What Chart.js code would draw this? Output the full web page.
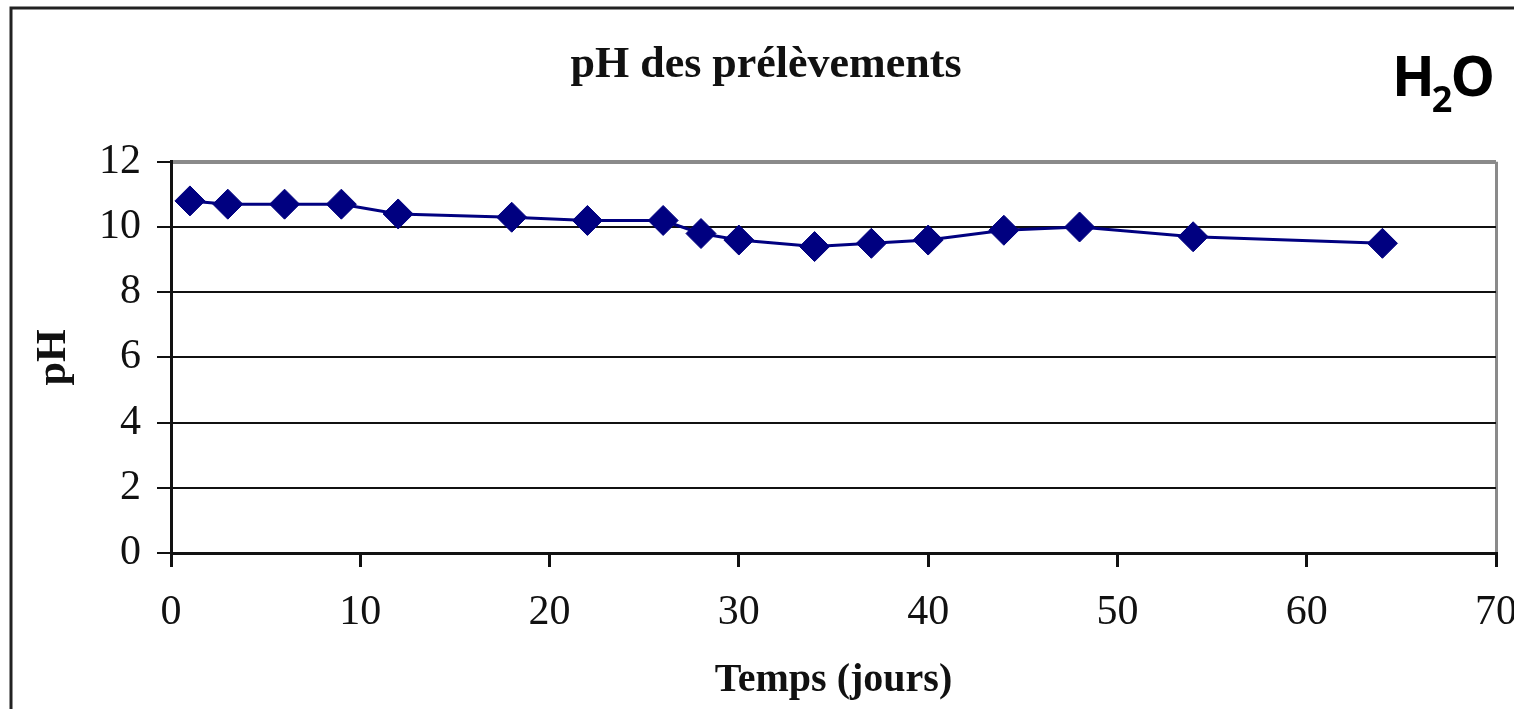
<!DOCTYPE html>
<html>
<head>
<meta charset="utf-8">
<script src="https://cdn.jsdelivr.net/npm/chart.js@4/dist/chart.umd.min.js"></script>
<style>
  body { margin: 0; background: #fff; }
  canvas { display: block; }
</style>
</head>
<body>
<canvas id="phChart" width="1514" height="709"></canvas>
<script>
// jours de prélèvement et pH mesuré
const jours = [1, 3, 6, 9, 12, 18, 22, 26, 28, 30, 34, 37, 40, 44, 48, 54, 64];
const ph = [10.8, 10.7, 10.7, 10.7, 10.4, 10.3, 10.2, 10.2, 9.8, 9.6, 9.4, 9.5, 9.6, 9.9, 10.0, 9.7, 9.5];
const xTicks = [0, 10, 20, 30, 40, 50, 60, 70];
const yTicks = [0, 2, 4, 6, 8, 10, 12];

const ctx = document.getElementById('phChart');
const navy = '#000080';

// cadre noir autour de tout le graphique
const frame = {
  id: 'frame',
  beforeDraw(chart) {
    const c = chart.ctx;
    c.save();
    c.fillStyle = '#fff';
    c.fillRect(0, 0, chart.width, chart.height);
    c.strokeStyle = '#222';
    c.lineWidth = 3;
    c.strokeRect(11, 8, chart.width + 20, chart.height + 20);
    c.restore();
  }
};

// étiquette H2O en haut à droite
const h2o = {
  id: 'h2o',
  afterDraw(chart) {
    const c = chart.ctx;
    c.save();
    c.fillStyle = '#000';
    c.textBaseline = 'alphabetic';
    c.textAlign = 'left';
    let x = 1392;
    c.font = 'bold 56px "Open Sans"';
    c.fillText('H', x, 96);
    x += c.measureText('H').width - 3;
    c.font = 'bold 36px "Open Sans"';
    c.fillText('2', x, 112);
    x += c.measureText('2').width - 2;
    c.font = 'bold 56px "Open Sans"';
    c.fillText('O', x, 96);
    c.restore();
  }
};

new Chart(ctx, {
  type: 'line',
  data: {
    datasets: [{
      label: 'pH',
      data: jours.map((j, i) => ({ x: j, y: ph[i] })),
      borderColor: navy,
      borderWidth: 3,
      backgroundColor: navy,
      pointStyle: 'rectRot',
      pointRadius: 15,
      pointBorderWidth: 1,
      pointBackgroundColor: navy,
      pointBorderColor: navy,
      lineTension: 0
    }]
  },
  options: {
    responsive: false,
    animation: false,
    layout: { padding: { left: 18, right: 0, top: 0, bottom: 0 } },
    plugins: {
      legend: { display: false },
      tooltip: { enabled: false },
      title: {
        display: true,
        text: 'pH des prélèvements',
        color: '#111',
        font: { family: 'Liberation Serif', size: 44, weight: 'bold' },
        padding: { top: 39, bottom: 70 }
      }
    },
    scales: {
      x: {
        type: 'linear',
        min: 0,
        max: 70,
        afterBuildTicks: s => { s.ticks = xTicks.map(v => ({ value: v })); },
        afterFit: s => { s.height = 156; s.paddingLeft = 0; s.paddingRight = 18; },
        ticks: {
          color: '#111',
          padding: 21,
          maxRotation: 0,
          font: { family: 'Liberation Serif', size: 42 }
        },
        grid: {
          drawOnChartArea: true,
          color: c => (c.tick && c.tick.value === 70) ? '#8a8a8a' : 'rgba(0,0,0,0)',
          lineWidth: 3,
          tickColor: '#111',
          tickLength: 14,
          tickWidth: 3
        },
        border: { color: '#111', width: 3 },
        title: {
          display: true,
          text: 'Temps (jours)',
          color: '#111',
          font: { family: 'Liberation Serif', size: 40, weight: 'bold' },
          padding: { bottom: 4 }
        }
      },
      y: {
        min: 0,
        max: 12,
        afterBuildTicks: s => { s.ticks = yTicks.map(v => ({ value: v })); },
        afterFit: s => { s.width = 153; },
        ticks: {
          color: '#111',
          padding: 16,
          font: { family: 'Liberation Serif', size: 42 }
        },
        grid: {
          color: c => (c.tick && c.tick.value === 12) ? '#8a8a8a' : '#111',
          lineWidth: c => (c.tick && c.tick.value === 12) ? 4 : 2,
          tickColor: '#111',
          tickLength: 14,
          tickWidth: 2
        },
        border: { color: '#111', width: 3 },
        title: {
          display: true,
          text: 'pH',
          color: '#111',
          font: { family: 'Liberation Serif', size: 42, weight: 'bold' },
          padding: { top: 11 }
        }
      }
    }
  },
  plugins: [frame, h2o]
});
</script>
</body>
</html>
